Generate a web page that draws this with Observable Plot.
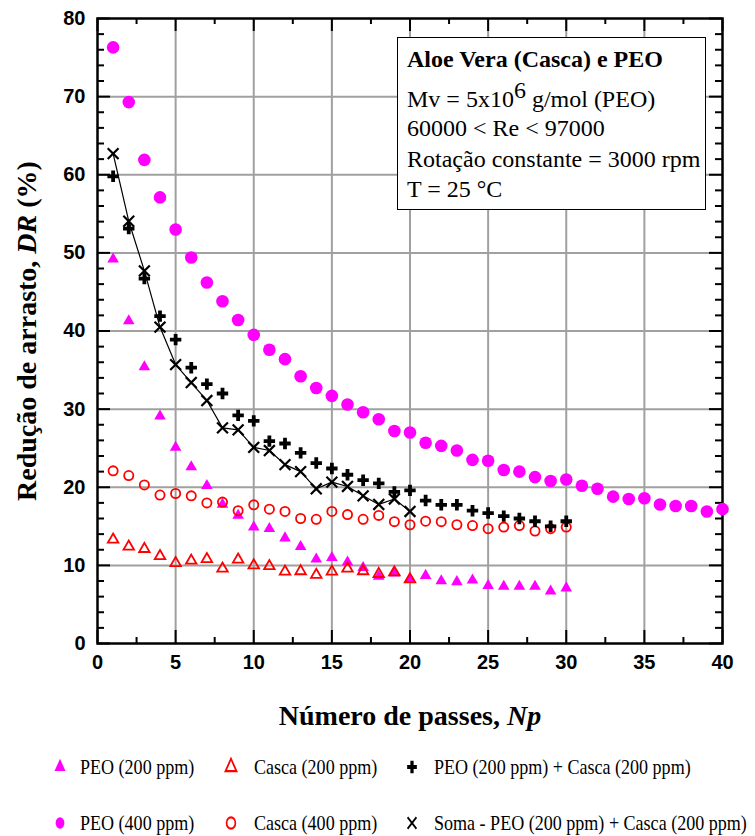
<!DOCTYPE html>
<html>
<head>
<meta charset="utf-8">
<script src="https://cdn.jsdelivr.net/npm/d3@7"></script>
<script src="https://cdn.jsdelivr.net/npm/@observablehq/plot@0.6"></script>
<style>
  body { margin: 0; background: #fff; }
  #wrap { position: relative; width: 755px; height: 836px; background: #fff; overflow: hidden; }
  #chart { position: absolute; left: 0; top: 0; }
  .note { position: absolute; left: 397px; top: 37px; width: 307px; height: 171px;
          border: 1px solid #000; background: #fff; font-family: "Liberation Serif", serif;
          font-size: 24px; color: #000; }
  .note div { position: absolute; left: 9px; line-height: 30px; white-space: nowrap; }
  .note .sup { position: relative; top: -9px; font-size: 24px; }
  .leg { position: absolute; height: 30px; }
  .leg svg { position: absolute; overflow: visible; }
  .leg span { position: absolute; top: 0; line-height: 30px; white-space: nowrap;
              font-family: "Liberation Serif", serif; font-size: 22px; color: #000;
              transform: scaleX(0.82); transform-origin: left center; }
</style>
</head>
<body>
<div id="wrap">
  <div id="chart"></div>
</div>
<script>
// Number of passes through the rheometer
const passes40 = [1,2,3,4,5,6,7,8,9,10,11,12,13,14,15,16,17,18,19,20,
                  21,22,23,24,25,26,27,28,29,30,31,32,33,34,35,36,37,38,39,40];
const passes30 = passes40.slice(0, 30);
const passes20 = passes40.slice(0, 20);

// Drag reduction DR (%) per series
const peo400 = [76.3, 69.3, 61.9, 57.1, 53.0, 49.4, 46.2, 43.8, 41.4, 39.5,
                37.6, 36.4, 34.2, 32.7, 31.7, 30.6, 29.6, 28.7, 27.2, 27.0,
                25.7, 25.3, 24.7, 23.5, 23.4, 22.2, 22.0, 21.3, 20.8, 21.0,
                20.2, 19.8, 18.8, 18.5, 18.6, 17.8, 17.6, 17.6, 16.9, 17.2];
const peo200 = [49.2, 41.3, 35.4, 29.1, 25.1, 22.6, 20.2, 17.8, 16.4, 14.9,
                14.7, 13.5, 12.4, 10.8, 11.0, 10.4, 9.7, 8.6, 9.0, 8.3,
                8.7, 8.0, 7.9, 8.1, 7.4, 7.3, 7.3, 7.3, 6.7, 7.1];
const casca200 = [13.3, 12.4, 12.1, 11.2, 10.3, 10.6, 10.8, 9.6, 10.75, 10.0,
                  9.9, 9.2, 9.25, 8.8, 9.2, 9.6, 9.25, 8.9, 9.1, 8.2];
const casca400 = [22.1, 21.5, 20.3, 19.0, 19.2, 18.9, 18.0, 18.1, 17.0, 17.75,
                  17.2, 16.9, 16.0, 15.9, 16.9, 16.5, 15.9, 16.4, 15.6, 15.2,
                  15.65, 15.6, 15.2, 15.1, 14.7, 14.9, 15.1, 14.4, 14.7, 14.9];
const mix200 = [59.8, 53.1, 46.7, 41.9, 38.9, 35.3, 33.2, 32.0, 29.2, 28.5,
                25.9, 25.6, 24.4, 23.1, 22.4, 21.6, 20.9, 20.5, 19.4, 19.6,
                18.3, 17.75, 17.75, 17.0, 16.7, 16.3, 16.0, 15.65, 15.0, 15.65];
const soma200 = [62.7, 54.05, 47.7, 40.5, 35.7, 33.4, 31.1, 27.6, 27.35, 25.1,
                 24.7, 22.9, 22.0, 19.8, 20.65, 20.1, 18.9, 17.8, 18.5, 16.9];

// Axis ticks
const xTicks = [0, 5, 10, 15, 20, 25, 30, 35, 40];
const yTicks = [0, 10, 20, 30, 40, 50, 60, 70, 80];
const xMinor = d3.range(2.5, 40, 5);
const yMinor = d3.range(2, 80, 2).filter(v => v % 10 !== 0);

const xTitle = ["Número de passes, ", "Np"];
const yTitle = ["Redução de arrasto, ", "DR", " (%)"];

const legendItems = [
  {label: "PEO (200 ppm)", symbol: "triangle", fill: "#ff00ff", stroke: "none", row: 0, sx: 60, tx: 80},
  {label: "Casca (200 ppm)", symbol: "triangle", fill: "none", stroke: "#ff0000", row: 0, sx: 231, tx: 254},
  {label: "PEO (200 ppm) + Casca (200 ppm)", symbol: "cross", fill: "#000", stroke: "none", row: 0, sx: 412, tx: 434},
  {label: "PEO (400 ppm)", symbol: "circle", fill: "#ff00ff", stroke: "none", row: 1, sx: 60, tx: 80},
  {label: "Casca (400 ppm)", symbol: "circle", fill: "none", stroke: "#ff0000", row: 1, sx: 231, tx: 254},
  {label: "Soma - PEO (200 ppm) + Casca (200 ppm)", symbol: "times", fill: "none", stroke: "#000", row: 1, sx: 412, tx: 434}
];

const toRows = (xs, ys) => xs.map((x, i) => ({x, y: ys[i]}));

const tickStroke = {stroke: "#000", strokeWidth: 2};

const chart = Plot.plot({
  width: 755,
  height: 740,
  marginLeft: 97,
  marginRight: 33,
  marginTop: 18,
  marginBottom: 97,
  x: {domain: [0, 40]},
  y: {domain: [0, 80]},
  style: {background: "#fff", fontFamily: "Liberation Sans", fontSize: "20px", fontWeight: "bold", color: "#000"},
  marks: [
    Plot.gridX(xTicks.slice(1, -1), {stroke: "#a0a0a0", strokeOpacity: 1, strokeWidth: 2}),
    Plot.gridY(yTicks.slice(1, -1), {stroke: "#a0a0a0", strokeOpacity: 1, strokeWidth: 2}),
    // inward ticks on all four sides
    Plot.tickX(xMinor, {x: d => d, insetTop: 619, ...tickStroke}),
    Plot.tickX(xMinor, {x: d => d, insetBottom: 619, ...tickStroke}),
    Plot.tickX(xTicks, {x: d => d, insetTop: 612, ...tickStroke}),
    Plot.tickX(xTicks, {x: d => d, insetBottom: 612, ...tickStroke}),
    Plot.tickY(yMinor, {y: d => d, insetRight: 618, ...tickStroke}),
    Plot.tickY(yMinor, {y: d => d, insetLeft: 618, ...tickStroke}),
    Plot.tickY(yTicks, {y: d => d, insetRight: 612, ...tickStroke}),
    Plot.tickY(yTicks, {y: d => d, insetLeft: 612, ...tickStroke}),
    Plot.frame({stroke: "#000", strokeWidth: 2.5}),
    Plot.axisX({ticks: xTicks, tickSize: 0, tickPadding: 11, label: null,
                fontSize: 20, fontWeight: "bold", fontFamily: "Liberation Sans"}),
    Plot.axisY({ticks: yTicks, tickSize: 0, tickPadding: 12, label: null,
                fontSize: 20, fontWeight: "bold", fontFamily: "Liberation Sans"}),
    // series
    Plot.dot(toRows(passes40, peo400), {x: "x", y: "y", r: 6.3, fill: "#ff00ff", stroke: "none"}),
    Plot.dot(toRows(passes30, peo200), {x: "x", y: "y", r: 4.3, symbol: "triangle", fill: "#ff00ff", stroke: "none"}),
    Plot.dot(toRows(passes20, casca200), {x: "x", y: "y", r: 3.9, symbol: "triangle", fill: "none", stroke: "#ff0000", strokeWidth: 1.8}),
    Plot.dot(toRows(passes30, casca400), {x: "x", y: "y", r: 4.6, fill: "none", stroke: "#ff0000", strokeWidth: 1.8}),
    Plot.dot(toRows(passes30, mix200), {x: "x", y: "y", r: 4.8, symbol: "cross", fill: "#000", stroke: "none"}),
    Plot.line(toRows(passes20, soma200), {x: "x", y: "y", stroke: "#000", strokeWidth: 1.2}),
    Plot.dot(toRows(passes20, soma200), {x: "x", y: "y", r: 5, symbol: "times", stroke: "#000", strokeWidth: 2.2}),
    // axis titles
    Plot.text([xTitle.join("")], {frameAnchor: "bottom", dy: 73, lineAnchor: "middle", textAnchor: "middle",
              fontFamily: "Liberation Serif", fontWeight: "bold", fontSize: 28, fill: "#000"}),
    Plot.text([yTitle.join("")], {frameAnchor: "left", dx: -70, rotate: -90, lineAnchor: "middle", textAnchor: "middle",
              fontFamily: "Liberation Serif", fontWeight: "bold", fontSize: 28, fill: "#000"})
  ]
});

// italic variable names inside the axis titles
function styleTitle(parts, italicIndex) {
  const full = parts.join("");
  chart.querySelectorAll("text").forEach(t => {
    if (t.textContent !== full) return;
    t.textContent = "";
    t.setAttribute("style", "white-space: pre");
    parts.forEach((p, i) => {
      const ts = document.createElementNS("http://www.w3.org/2000/svg", "tspan");
      ts.textContent = p;
      if (i === italicIndex) ts.setAttribute("font-style", "italic");
      t.appendChild(ts);
    });
  });
}
styleTitle(xTitle, 1);
styleTitle(yTitle, 1);

const wrap = document.getElementById("wrap");
document.getElementById("chart").appendChild(chart);

// conditions box
const note = document.createElement("div");
note.className = "note";
note.innerHTML =
  '<div style="top:6px;font-weight:bold">Aloe Vera (Casca) e PEO</div>' +
  '<div style="top:46px">Mv = 5x10<span class="sup">6</span> g/mol (PEO)</div>' +
  '<div style="top:75px">60000 &lt; Re &lt; 97000</div>' +
  '<div style="top:106px">Rotação constante = 3000 rpm</div>' +
  '<div style="top:136px">T = 25 °C</div>';
wrap.appendChild(note);

// legend
const symbolTypes = {triangle: d3.symbolTriangle, cross: d3.symbolCross, circle: d3.symbolCircle, times: d3.symbolTimes};
const rowCenters = [767, 823];
legendItems.forEach(item => {
  const div = document.createElement("div");
  div.className = "leg";
  div.style.left = "0px";
  div.style.top = (rowCenters[item.row] - 15) + "px";
  div.style.width = "755px";
  const r = item.symbol === "circle" ? 5.2 : 4.8;
  const path = d3.symbol(symbolTypes[item.symbol], Math.PI * r * r)();
  const sw = item.stroke === "none" ? 0 : 2;
  div.innerHTML =
    `<svg width="20" height="30" style="left:${item.sx - 10}px;top:0">` +
    `<path d="${path}" transform="translate(10,15) scale(0.85,1.1)" fill="${item.fill}" stroke="${item.stroke}" stroke-width="${sw}"/></svg>` +
    `<span style="left:${item.tx}px">${item.label}</span>`;
  wrap.appendChild(div);
});
</script>
</body>
</html>
